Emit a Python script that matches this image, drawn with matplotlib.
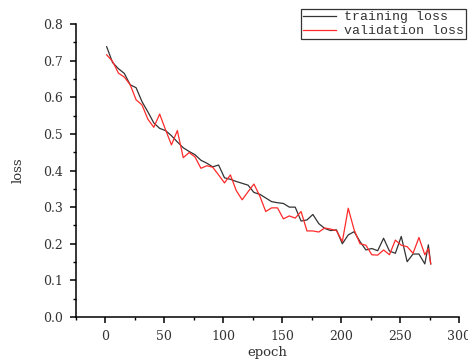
import matplotlib
matplotlib.use('Agg')
import matplotlib.pyplot as plt
from matplotlib.ticker import MultipleLocator, FormatStrFormatter

# epoch positions of the logged points
epochs = [1, 6, 11, 16, 21, 26, 31, 36, 41, 46, 51, 56, 61, 66, 71, 76, 81, 86, 91, 96,
          101, 106, 111, 116, 121, 126, 131, 136, 141, 146, 151, 156, 161, 166, 171, 176,
          181, 186, 191, 196, 201, 206, 211, 216, 221, 226, 231, 236, 241, 246, 251, 256,
          261, 266, 271, 274, 276]

training_loss = [0.738, 0.695, 0.678, 0.665, 0.634, 0.626, 0.588, 0.560, 0.530, 0.515,
                 0.509, 0.495, 0.478, 0.462, 0.452, 0.443, 0.428, 0.420, 0.410, 0.415,
                 0.380, 0.376, 0.370, 0.365, 0.360, 0.340, 0.335, 0.325, 0.315, 0.312,
                 0.310, 0.300, 0.300, 0.262, 0.265, 0.280, 0.255, 0.242, 0.236, 0.238,
                 0.200, 0.224, 0.233, 0.206, 0.183, 0.187, 0.181, 0.215, 0.180, 0.174,
                 0.220, 0.151, 0.172, 0.172, 0.145, 0.197, 0.145]

validation_loss = [0.716, 0.698, 0.666, 0.655, 0.634, 0.593, 0.579, 0.540, 0.518, 0.554,
                   0.511, 0.470, 0.509, 0.435, 0.449, 0.437, 0.406, 0.413, 0.409, 0.388,
                   0.366, 0.388, 0.345, 0.320, 0.342, 0.363, 0.330, 0.288, 0.298, 0.298,
                   0.268, 0.276, 0.270, 0.288, 0.235, 0.235, 0.232, 0.243, 0.240, 0.236,
                   0.206, 0.297, 0.238, 0.200, 0.196, 0.170, 0.169, 0.183, 0.170, 0.210,
                   0.196, 0.192, 0.174, 0.217, 0.170, 0.187, 0.145]

W, H = 468, 361
fig = plt.figure(figsize=(W / 100, H / 100), dpi=100)
ax = fig.add_axes([76 / W, (H - 317) / H, (459 - 76) / W, (317 - 24) / H])

ax.plot(epochs, training_loss, color='#333333', lw=0.9, label='training loss')
ax.plot(epochs, validation_loss, color='#ff2a2a', lw=0.9, label='validation loss')

ax.set_xlim(-25, 300)
ax.set_ylim(0, 0.8)
ax.xaxis.set_major_locator(MultipleLocator(50))
ax.xaxis.set_minor_locator(MultipleLocator(25))
ax.yaxis.set_major_locator(MultipleLocator(0.1))
ax.yaxis.set_minor_locator(MultipleLocator(0.05))
ax.yaxis.set_major_formatter(FormatStrFormatter('%.1f'))

for s in ['top', 'right']:
    ax.spines[s].set_visible(False)
for s in ['left', 'bottom']:
    ax.spines[s].set_linewidth(1.1)
    ax.spines[s].set_color('black')

ax.tick_params(which='major', direction='out', length=4.5, width=1.1,
               labelsize=9, labelcolor='#333333', pad=5)
ax.tick_params(which='minor', direction='out', length=2.5, width=1.0)
for lab in ax.get_xticklabels() + ax.get_yticklabels():
    lab.set_family('DejaVu Serif')

ax.set_xlabel('epoch', family='DejaVu Serif', fontsize=9.5, color='#333333', labelpad=2)
ax.set_ylabel('loss', family='DejaVu Serif', fontsize=9.5, color='#333333', labelpad=13)

leg = fig.legend(loc='upper right', bbox_to_anchor=(466 / W, 1 - 9 / H),
                 prop={'family': 'Liberation Mono', 'size': 9.5},
                 frameon=True, fancybox=False, borderaxespad=0, borderpad=0.15,
                 labelspacing=0.15, handlelength=2.5, handletextpad=0.6)
leg.get_frame().set_edgecolor('black')
leg.get_frame().set_linewidth(0.9)
for t in leg.get_texts():
    t.set_color('#333333')

fig.savefig('out.png', dpi=100)
